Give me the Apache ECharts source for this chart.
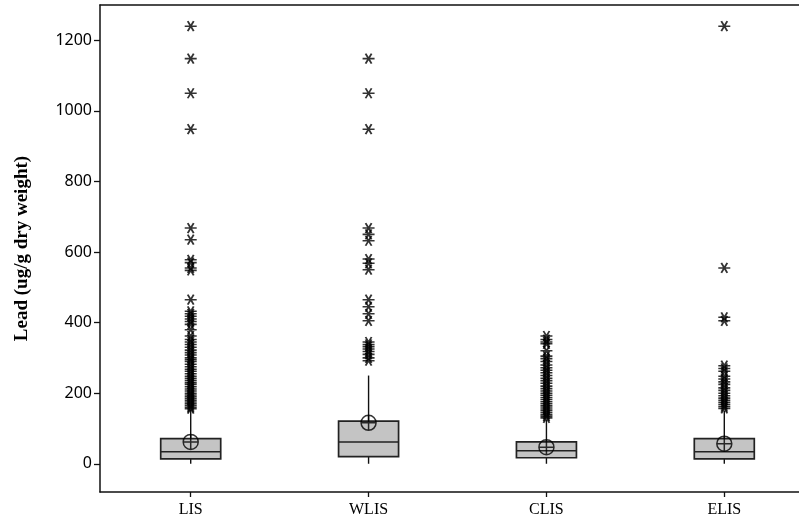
<!DOCTYPE html>
<html>
<head>
<meta charset="utf-8">
<script src="https://cdn.jsdelivr.net/npm/echarts@6/dist/echarts.min.js"></script>
<style>html,body{margin:0;padding:0;background:#fff}#c{width:799px;height:527px}</style>
</head>
<body>
<div id="c"></div>
<script>
// ---- data ----
const categories = ['LIS', 'WLIS', 'CLIS', 'ELIS'];
// [lower whisker, Q1, median, Q3, upper whisker]
const boxLIS  = [0, 14, 34, 71, 153];
const boxWLIS = [0, 20, 62, 121, 250];
const boxCLIS = [0, 17, 37, 62, 124];
const boxELIS = [0, 14, 34, 71, 150];
const means = [62, 116, 47, 57];
const outLIS = [1240, 1148, 1050, 948, 668, 635, 578, 570, 555, 548, 465, 432, 425, 418, 410, 403, 395,
  380, 362, 352, 345, 338, 330, 322, 315, 308, 300, 295, 290, 282, 275, 268, 262, 255, 248, 242, 236,
  230, 225, 218, 212, 206, 200, 195, 190, 185, 180, 175, 170, 165, 160, 156];
const outWLIS = [1148, 1050, 948, 668, 650, 632, 580, 568, 550, 465, 445, 425, 405,
  345, 338, 332, 325, 318, 310, 300, 292];
const outCLIS = [362, 352, 345, 340, 320, 305, 298, 290, 280, 272, 265, 258, 250, 242, 235, 228, 220,
  213, 206, 200, 194, 188, 182, 176, 170, 164, 158, 152, 146, 140, 135, 130];
const outELIS = [1240, 555, 415, 405, 278, 270, 262, 248, 240, 232, 225, 215, 208, 200, 193, 186,
  180, 174, 168, 162, 157];
const yTicks = [0, 200, 400, 600, 800, 1000, 1200];

// ---- build ----
const boxes = [boxLIS, boxWLIS, boxCLIS, boxELIS];
const outs = [outLIS, outWLIS, outCLIS, outELIS];
const boxData = boxes.map((b, i) => [i].concat(b));
const meanData = means.map((m, i) => [i, m]);
const outData = [];
outs.forEach((arr, i) => arr.forEach(v => outData.push([i, v])));

const starPath = 'path://M-10,0 L10,0 M-5,-8.66 L5,8.66 M5,-8.66 L-5,8.66';
const meanPath = 'path://M0,-10 A10,10 0 1 1 0,10 A10,10 0 1 1 0,-10 Z M-10,0 L10,0 M0,-10 L0,10';

const chart = echarts.init(document.getElementById('c'), null, {renderer: 'canvas'});
const xCommon = {
  type: 'value', min: -0.51, max: 3.42,
  splitLine: {show: false}
};
chart.setOption({
  animation: false,
  backgroundColor: '#fff',
  grid: {left: 100, right: 0, top: 5, bottom: 35, containLabel: false},
  xAxis: [
    Object.assign({}, xCommon, {
      position: 'bottom',
      axisLine: {show: true, onZero: false, lineStyle: {color: '#111', width: 1.5}},
      axisTick: {show: true, customValues: [0, 1, 2, 3], length: 5, inside: false, lineStyle: {color: '#111', width: 1.3}},
      axisLabel: {
        show: true, customValues: [0, 1, 2, 3], margin: 10,
        formatter: v => categories[Math.round(v)] || '',
        fontFamily: 'Liberation Serif', fontSize: 16, color: '#000'
      }
    }),
    Object.assign({}, xCommon, {
      position: 'top',
      axisLine: {show: true, onZero: false, lineStyle: {color: '#111', width: 1.5}},
      axisTick: {show: false}, axisLabel: {show: false}
    })
  ],
  yAxis: {
    type: 'value', min: -80, max: 1300,
    name: 'Lead (ug/g dry weight)', nameLocation: 'middle', nameGap: 68, nameRotate: 90,
    nameTextStyle: {fontFamily: 'Liberation Serif', fontWeight: 'bold', fontSize: 19, color: '#000'},
    axisLine: {show: true, onZero: false, lineStyle: {color: '#111', width: 1.5}},
    axisTick: {show: true, customValues: yTicks, length: 6, lineStyle: {color: '#111', width: 1.3}},
    axisLabel: {
      show: true, customValues: yTicks, margin: 8, formatter: v => String(v),
      fontFamily: 'Noto Sans', fontSize: 16, color: '#000'
    },
    splitLine: {show: false}
  },
  series: [
    {
      type: 'custom',
      data: boxData,
      encode: {x: 0, y: [1, 2, 3, 4, 5]},
      renderItem: function (params, api) {
        const x = api.value(0);
        const pMin = api.coord([x, api.value(1)]);
        const pQ1 = api.coord([x, api.value(2)]);
        const pMed = api.coord([x, api.value(3)]);
        const pQ3 = api.coord([x, api.value(4)]);
        const pMax = api.coord([x, api.value(5)]);
        const hw = 30;
        const cx = pMed[0];
        const ls = {stroke: '#111', lineWidth: 1.4};
        return {
          type: 'group',
          children: [
            {type: 'line', shape: {x1: cx, y1: pQ3[1], x2: cx, y2: pMax[1]}, style: ls},
            {type: 'line', shape: {x1: cx, y1: pQ1[1], x2: cx, y2: pMin[1]}, style: ls},
            {type: 'rect', shape: {x: cx - hw, y: pQ3[1], width: 2 * hw, height: pQ1[1] - pQ3[1]},
              style: {fill: '#c4c4c4', stroke: '#222', lineWidth: 1.7}},
            {type: 'line', shape: {x1: cx - hw, y1: pMed[1], x2: cx + hw, y2: pMed[1]},
              style: {stroke: '#222', lineWidth: 1.5}}
          ]
        };
      }
    },
    {
      type: 'scatter',
      data: outData,
      symbol: starPath,
      symbolSize: [12, 10],
      itemStyle: {color: 'rgba(0,0,0,0)', borderColor: '#000', borderWidth: 1.7},
      z: 3
    },
    {
      type: 'scatter',
      data: meanData,
      symbol: meanPath,
      symbolSize: 15,
      itemStyle: {color: 'rgba(0,0,0,0)', borderColor: '#000', borderWidth: 1.5},
      z: 4
    }
  ]
});
</script>
</body>
</html>
